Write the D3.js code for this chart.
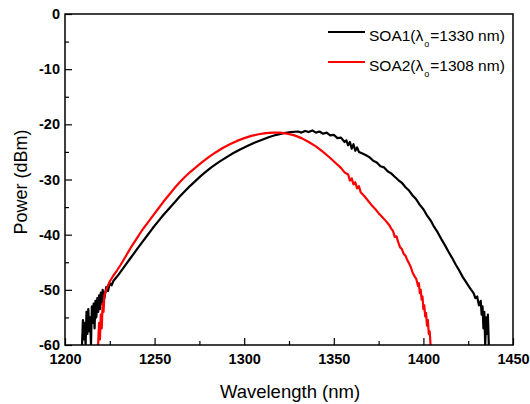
<!DOCTYPE html>
<html>
<head>
<meta charset="utf-8">
<script src="https://cdn.jsdelivr.net/npm/d3@7"></script>
<style>
  body { margin: 0; background: #fff; }
  svg { font-family: "Liberation Sans", Arial, sans-serif; }
</style>
</head>
<body>
<svg id="chart" width="530" height="404"></svg>
<script>
// wavelength (nm) / power (dBm)
var soa1 = [
  [1209.5,-60],[1210,-55.5],[1210.5,-59],[1211,-56],[1211.5,-60],[1212,-54],[1212.5,-58],[1213,-53.5],
  [1213.5,-57.5],[1214,-55],[1214.5,-60],[1215,-53],[1215.5,-56],[1216,-52.5],[1216.5,-57],[1217,-52],
  [1217.5,-55],[1218,-51.5],[1218.5,-54],[1219,-51],[1219.5,-53.5],[1220,-50.5],[1220.5,-52.5],[1221,-50],
  [1222,-51.5],[1223,-49.5],[1224,-50.2],[1225,-48.8],[1226,-49.2],[1227,-48.4],[1228,-48.0],[1230,-47.2],
  [1232,-46.3],[1234,-45.4],[1236,-44.5],[1238,-43.6],[1240,-42.7],[1243,-41.4],[1246,-40.1],[1249,-38.8],
  [1252,-37.6],[1255,-36.4],[1258,-35.3],[1261,-34.2],[1264,-33.1],[1267,-32.1],[1270,-31.1],[1273,-30.2],
  [1276,-29.3],[1279,-28.5],[1282,-27.7],[1286,-26.8],[1290,-26.0],[1294,-25.2],[1298,-24.5],[1302,-23.9],
  [1306,-23.3],[1310,-22.8],[1314,-22.3],[1318,-21.9],[1322,-21.6],[1326,-21.4],[1330,-21.3],[1332,-21.5],
  [1334,-21.2],[1336,-21.4],[1338,-21.1],[1340,-21.5],[1342,-21.3],[1344,-21.7],[1346,-21.5],[1348,-22.0],
  [1350,-21.9],[1352,-22.5],[1354,-22.4],[1356,-23.2],[1357,-22.9],[1358,-23.8],[1359,-23.2],[1360,-24.4],
  [1361,-23.6],[1362,-24.8],[1363,-24.2],[1364,-25.0],[1366,-25.3],[1368,-25.6],[1370,-26.0],[1372,-26.6],
  [1374,-26.9],[1376,-27.6],[1378,-27.8],[1380,-28.5],[1382,-28.9],[1384,-29.5],[1386,-30.1],[1388,-30.6],
  [1390,-31.4],[1392,-32.0],[1394,-32.9],[1396,-33.6],[1398,-34.6],[1400,-35.4],[1402,-36.5],[1404,-37.4],
  [1406,-38.6],[1408,-39.6],[1410,-40.8],[1412,-41.9],[1414,-43.1],[1416,-44.2],[1418,-45.4],[1420,-46.5],
  [1422,-47.7],[1424,-48.7],[1426,-49.7],[1428,-50.6],[1429,-51.5],[1430,-51.2],[1431,-52.8],[1432,-52.0],
  [1432.5,-54.5],[1433,-53.0],[1433.5,-57],[1434,-54],[1434.5,-60],[1435,-55],[1435.5,-58],[1436,-54.5],[1436.5,-60]
];

var soa2 = [
  [1218.5,-60],[1219,-56],[1219.5,-59],[1220,-54.5],[1220.5,-57],[1221,-52.5],[1221.5,-54],[1222,-51],
  [1223,-50],[1224,-49.2],[1225,-48.5],[1227,-47.4],[1229,-46.5],[1231,-45.5],[1233,-44.4],[1235,-43.3],
  [1237,-42.2],[1240,-40.7],[1243,-39.2],[1246,-37.9],[1249,-36.6],[1252,-35.3],[1255,-34.0],[1258,-32.8],
  [1261,-31.6],[1264,-30.5],[1267,-29.5],[1270,-28.6],[1273,-27.8],[1276,-27.0],[1280,-26.0],[1284,-25.1],
  [1288,-24.3],[1292,-23.6],[1296,-23.0],[1300,-22.5],[1304,-22.1],[1308,-21.8],[1312,-21.6],[1316,-21.5],
  [1320,-21.5],[1324,-21.7],[1328,-22.0],[1332,-22.5],[1336,-23.2],[1340,-24.0],[1344,-25.0],[1348,-26.1],
  [1351,-27.0],[1354,-27.9],[1356,-28.7],[1358,-29.1],[1359,-30.2],[1360,-29.8],[1361,-30.9],[1362,-30.5],
  [1363,-31.6],[1364,-31.2],[1365,-32.3],[1367,-33.0],[1369,-33.8],[1371,-34.6],[1373,-35.3],[1375,-36.1],
  [1377,-36.8],[1379,-37.5],[1381,-38.3],[1382,-38.9],[1383,-39.3],[1384,-40.4],[1385,-40.3],[1386,-41.4],
  [1387,-42.3],[1388,-42.6],[1389,-43.5],[1390,-43.8],[1391,-44.6],[1392,-45.2],[1393,-45.9],[1394,-46.9],
  [1395,-47.5],[1396,-48.0],[1397,-49.3],[1397.5,-48.8],[1398,-50.6],[1398.5,-50.0],[1399,-51.8],[1399.5,-51.2],
  [1400,-53.5],[1400.5,-52.8],[1401,-54.8],[1401.5,-54.2],[1402,-56.5],[1402.5,-55.5],[1403,-58.0],[1403.5,-57.5],[1404,-60]
];

var seriesNames = ["SOA1", "SOA2"];
var lambdaLabels = ["=1330 nm)", "=1308 nm)"];
var seriesColors = ["#000000", "#ff0000"];
var xTicks = [1200, 1250, 1300, 1350, 1400, 1450];
var yTicks = [0, -10, -20, -30, -40, -50, -60];

(function() {

  var padL = 65, padR = 513, padT = 14, padB = 345;

  var svg = d3.select('#chart');

  var x = d3.scaleLinear().domain([1200, 1450]).range([padL, padR]);
  var y = d3.scaleLinear().domain([-60, 0]).range([padB, padT]);

  svg.append('clipPath').attr('id', 'clip')
    .append('rect')
      .attr('x', padL).attr('y', padT)
      .attr('width', padR - padL).attr('height', padB - padT);

  var line = d3.line()
    .x(function(d) { return x(d[0]); })
    .y(function(d) { return y(d[1]); });

  var plot = svg.append('g').attr('clip-path', 'url(#clip)');
  [soa1, soa2].forEach(function(s, i) {
    plot.append('path')
      .attr('d', line(s))
      .attr('fill', 'none')
      .attr('stroke', seriesColors[i])
      .attr('stroke-width', 2.2)
      .attr('stroke-linejoin', 'round');
  });

  // minor ticks
  svg.append('g')
    .attr('transform', 'translate(0,' + padB + ')')
    .call(d3.axisBottom(x).tickValues(d3.range(1225, 1450, 50)).tickSize(-4).tickFormat(''))
    .call(function(g) { g.select('.domain').remove(); });
  svg.append('g')
    .attr('transform', 'translate(' + padL + ',0)')
    .call(d3.axisLeft(y).tickValues(d3.range(-55, 0, 10)).tickSize(-4).tickFormat(''))
    .call(function(g) { g.select('.domain').remove(); });

  // major ticks + labels
  var plain = function(d) { return String(d); };
  var xAxis = svg.append('g')
    .attr('transform', 'translate(0,' + padB + ')')
    .call(d3.axisBottom(x).tickValues(xTicks).tickSize(-7).tickPadding(9).tickFormat(plain));
  var yAxis = svg.append('g')
    .attr('transform', 'translate(' + padL + ',0)')
    .call(d3.axisLeft(y).tickValues(yTicks).tickSize(-7).tickPadding(5).tickFormat(plain));

  [xAxis, yAxis].forEach(function(g) {
    g.select('.domain').remove();
    g.selectAll('text')
      .attr('font-family', '"Liberation Sans", Arial, sans-serif')
      .attr('font-size', 14.5)
      .attr('font-weight', 'bold')
      .attr('fill', '#000');
  });
  svg.selectAll('.tick line').attr('stroke', '#000').attr('stroke-width', 1.2);

  // frame
  svg.append('rect')
    .attr('x', padL).attr('y', padT)
    .attr('width', padR - padL).attr('height', padB - padT)
    .attr('fill', 'none').attr('stroke', '#000').attr('stroke-width', 1.5);

  // axis titles
  svg.append('text')
    .attr('x', 290).attr('y', 398)
    .attr('text-anchor', 'middle')
    .attr('font-size', 18.5)
    .attr('fill', '#000')
    .text('Wavelength (nm)');
  svg.append('text')
    .attr('transform', 'translate(27,182) rotate(-90)')
    .attr('text-anchor', 'middle')
    .attr('font-size', 18)
    .attr('fill', '#000')
    .text('Power (dBm)');

  // legend
  var legend = svg.append('g').attr('transform', 'translate(328,32)');
  seriesNames.forEach(function(name, i) {
    var row = legend.append('g').attr('transform', 'translate(0,' + (i * 30) + ')');
    row.append('line')
      .attr('x1', 0).attr('x2', 37).attr('y1', 0).attr('y2', 0)
      .attr('stroke', seriesColors[i]).attr('stroke-width', 2.2);
    var t = row.append('text').attr('x', 41).attr('y', 9).attr('font-size', 15.5).attr('fill', '#000');
    t.append('tspan').text(name + '(\u03bb');
    t.append('tspan').attr('dy', 6).attr('dx', 1).attr('font-size', 9).text('o');
    t.append('tspan').attr('dy', -6).attr('dx', 1).text(lambdaLabels[i]);
  });

})();
</script>
</body>
</html>
